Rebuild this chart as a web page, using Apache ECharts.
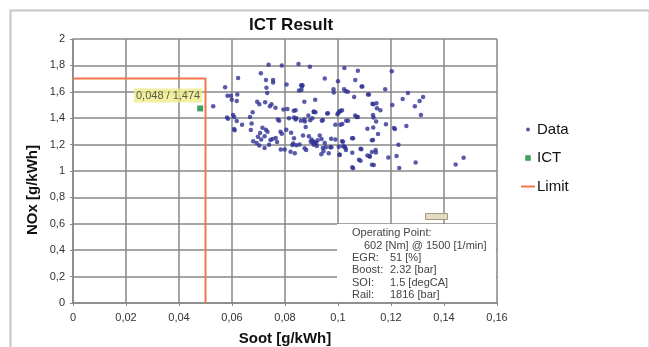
<!DOCTYPE html>
<html>
<head>
<meta charset="utf-8">
<script src="https://cdn.jsdelivr.net/npm/echarts@6/dist/echarts.min.js"></script>
<style>
  html, body { margin: 0; padding: 0; background: #fff; }
  #chart { width: 649px; height: 347px; }
</style>
</head>
<body>
<div id="chart"></div>
<script>
// measured points: [soot g/kWh, NOx g/kWh]
const measuredPoints = [
  [0.0738,1.805],[0.0788,1.80],[0.0851,1.81],[0.0894,1.79],[0.1024,1.78],[0.1075,1.76],[0.1203,1.755],
  [0.0709,1.74],[0.0623,1.705],[0.0728,1.69],[0.0755,1.69],[0.0755,1.67],[0.0806,1.655],[0.0861,1.65],
  [0.0864,1.64],[0.095,1.70],[0.1,1.68],[0.1065,1.69],[0.1089,1.64],[0.0574,1.635],[0.073,1.63],
  [0.0733,1.59],[0.0853,1.61],[0.0983,1.62],[0.0984,1.595],[0.1023,1.62],[0.1029,1.605],[0.1113,1.58],
  [0.1178,1.62],[0.1264,1.59],[0.0583,1.57],[0.0596,1.57],[0.0599,1.54],[0.0618,1.53],[0.062,1.58],
  [0.0529,1.49],[0.0695,1.525],[0.0703,1.505],[0.0725,1.52],[0.0743,1.49],[0.0749,1.505],[0.0764,1.48],
  [0.0794,1.465],[0.0809,1.47],[0.0873,1.525],[0.0914,1.54],[0.1061,1.56],[0.113,1.51],[0.1133,1.505],
  [0.116,1.46],[0.1205,1.50],[0.1244,1.545],[0.129,1.49],[0.1308,1.53],[0.1321,1.56],[0.1313,1.425],
  [0.0678,1.445],[0.0668,1.41],[0.0581,1.405],[0.0585,1.395],[0.0604,1.425],[0.0608,1.41],[0.0618,1.378],
  [0.0638,1.35],[0.0608,1.318],[0.061,1.308],[0.0773,1.39],[0.0778,1.38],[0.0815,1.40],[0.0834,1.405],
  [0.084,1.39],[0.086,1.38],[0.0873,1.39],[0.0888,1.42],[0.0903,1.40],[0.0909,1.45],[0.0915,1.445],
  [0.0939,1.38],[0.0959,1.435],[0.1001,1.44],[0.1005,1.45],[0.101,1.455],[0.1015,1.46],[0.0998,1.43],
  [0.099,1.35],[0.1009,1.35],[0.1031,1.38],[0.1065,1.42],[0.107,1.41],[0.1134,1.405],[0.1144,1.375],
  [0.1111,1.32],[0.1133,1.33],[0.1151,1.28],[0.1181,1.355],[0.1211,1.325],[0.1215,1.318],[0.1258,1.34],
  [0.0671,1.31],[0.0674,1.36],[0.0706,1.288],[0.0715,1.328],[0.0728,1.313],[0.0734,1.298],[0.0723,1.263],
  [0.0698,1.26],[0.071,1.238],[0.068,1.225],[0.0693,1.213],[0.0703,1.193],[0.0723,1.175],[0.074,1.198],
  [0.0753,1.243],[0.0765,1.25],[0.0783,1.298],[0.0788,1.283],[0.0805,1.313],[0.0823,1.29],[0.0834,1.248],
  [0.0831,1.208],[0.0843,1.195],[0.0855,1.20],[0.0868,1.268],[0.0878,1.333],[0.089,1.263],[0.09,1.238],
  [0.0906,1.213],[0.0909,1.198],[0.0918,1.213],[0.0923,1.233],[0.0931,1.268],[0.0938,1.243],[0.095,1.213],
  [0.0954,1.18],[0.0971,1.18],[0.0974,1.245],[0.099,1.238],[0.1003,1.183],[0.1006,1.125],[0.1015,1.225],
  [0.1019,1.188],[0.1028,1.175],[0.103,1.16],[0.1053,1.248],[0.1054,1.138],[0.1085,1.168],[0.1111,1.118],
  [0.1119,1.113],[0.1128,1.143],[0.1128,1.233],[0.1143,1.14],[0.119,1.103],[0.1221,1.113],[0.1228,1.198],
  [0.1231,1.023],[0.1293,1.065],[0.1444,1.05],[0.1474,1.10],[0.1054,1.028],[0.1079,1.085],[0.1128,1.048],
  [0.0784,1.163],[0.0799,1.163],[0.0821,1.145],[0.0866,1.65],[0.0862,1.614],[0.1037,1.60],[0.1092,1.64],
  [0.1117,1.58],[0.0833,1.457],[0.0908,1.447],[0.0962,1.437],[0.1145,1.513],[0.1147,1.475],[0.1132,1.424],
  [0.0843,1.40],[0.0875,1.375],[0.0895,1.385],[0.0943,1.386],[0.1016,1.356],[0.1038,1.38],[0.1075,1.41],
  [0.1019,1.222],[0.1025,1.184],[0.1057,1.248],[0.1088,1.164],[0.1132,1.235],[0.1142,1.159],[0.112,1.108],
  [0.1085,1.078],[0.1135,1.045],[0.1057,1.02],[0.1006,1.121],[0.0905,1.225],[0.0912,1.218],[0.0897,1.222],
  [0.092,1.19],[0.0874,1.172],[0.088,1.159],[0.0943,1.174],[0.0975,1.18],[0.0937,1.127],[0.0828,1.197],
  [0.0837,1.134],[0.084,1.46],[0.0945,1.15],[0.0965,1.135],[0.077,1.22],[0.0745,1.235]
];
const ictPoint = [0.048, 1.474];
const limitPath = [[0, 1.7], [0.05, 1.7], [0.05, 0]];
const operatingPoint = [
  ['EGR:', '51 [%]'],
  ['Boost:', '2.32 [bar]'],
  ['SOI:', '1.5 [degCA]'],
  ['Rail:', '1816 [bar]']
];

const font = '"Liberation Sans", Arial, sans-serif';
const comma = v => String(v).replace('.', ',');

const myChart = echarts.init(document.getElementById('chart'));

// Operating point box (white background hides the grid behind it)
const boxGraphics = [
  { type: 'rect', left: 337, top: 224, z: 1, shape: { width: 159, height: 78 }, style: { fill: '#fff' } },
  { type: 'text', left: 352, top: 227, z: 2, style: { text: 'Operating Point:', font: '11px ' + font, fill: '#444' } },
  { type: 'text', left: 364, top: 240, z: 2, style: { text: '602 [Nm] @ 1500 [1/min]', font: '11px ' + font, fill: '#444' } }
];
operatingPoint.forEach((row, i) => {
  boxGraphics.push({ type: 'text', left: 352, top: 252 + i * 12.6, z: 2, style: { text: row[0], font: '11px ' + font, fill: '#444' } });
  boxGraphics.push({ type: 'text', left: 390, top: 252 + i * 12.6, z: 2, style: { text: row[1], font: '11px ' + font, fill: '#444' } });
});

myChart.setOption({
  animation: false,
  title: {
    text: 'ICT Result',
    left: 244,
    top: 12,
    textStyle: { fontFamily: font, fontSize: 17, fontWeight: 'bold', color: '#111' }
  },
  legend: {
    orient: 'vertical',
    left: 516,
    top: 117,
    itemWidth: 14,
    itemHeight: 8,
    itemGap: 13.5,
    textStyle: { fontFamily: font, fontSize: 15, color: '#111', padding: [0, 0, 0, -3] },
    data: [
      { name: 'Data', icon: 'path://M0,0M10,10M5,2.5A2.5,2.5,0,1,1,5,7.5A2.5,2.5,0,1,1,5,2.5Z' },
      { name: 'ICT', icon: 'path://M0,0M10,10M1.5,1.5H8.5V8.5H1.5Z' },
      { name: 'Limit', icon: 'path://M0,0H14V2H0Z' }
    ]
  },
  grid: { left: 73, top: 39, width: 424, height: 264, outerBoundsMode: 'none' },
  xAxis: {
    type: 'value',
    min: 0,
    max: 0.16,
    interval: 0.02,
    name: 'Soot [g/kWh]',
    nameLocation: 'middle',
    nameGap: 28,
    nameTextStyle: { fontFamily: font, fontSize: 15, fontWeight: 'bold', color: '#111' },
    axisLine: { lineStyle: { color: '#888', width: 1.5 } },
    axisTick: { show: true, length: 3, lineStyle: { color: '#888' } },
    axisLabel: { margin: 9, fontFamily: font, fontSize: 11, color: '#333', formatter: v => comma(Math.round(v * 100) / 100) },
    splitLine: { lineStyle: { color: '#878787', width: 1.5 } }
  },
  yAxis: {
    type: 'value',
    min: 0,
    max: 2,
    interval: 0.2,
    axisLine: { show: true, lineStyle: { color: '#888', width: 1.5 } },
    axisTick: { show: true, length: 3, lineStyle: { color: '#888' } },
    axisLabel: { margin: 8, fontFamily: font, fontSize: 11, color: '#333', formatter: v => comma(Math.round(v * 10) / 10) },
    splitLine: { lineStyle: { color: '#878787', width: 1.5 } }
  },
  graphic: [
    { type: 'rect', left: 8, top: 8, shape: { width: 639, height: 345 }, style: { fill: 'none', stroke: '#c6c6c6', lineWidth: 2 } },
    {
      type: 'text', x: 33, y: 190, rotation: Math.PI / 2,
      style: { text: 'NOx [g/kWh]', font: 'bold 15px ' + font, fill: '#111', align: 'center', verticalAlign: 'middle' }
    },
    { type: 'rect', left: 425, top: 213, z: 2, shape: { width: 22, height: 6 }, style: { fill: '#e4dcc0', stroke: '#a19a80', lineWidth: 1 } },
    ...boxGraphics
  ],
  series: [
    {
      name: 'Data',
      type: 'scatter',
      symbol: 'circle',
      symbolSize: 4.5,
      itemStyle: { color: '#2f3294' },
      data: measuredPoints
    },
    {
      name: 'ICT',
      type: 'scatter',
      symbol: 'rect',
      symbolSize: 6,
      itemStyle: { color: '#178a3c' },
      label: {
        show: true,
        position: [5, -3],
        align: 'right',
        verticalAlign: 'bottom',
        formatter: p => comma(p.value[0]) + ' / ' + comma(p.value[1]),
        backgroundColor: '#eeec8a',
        padding: [2, 2, 1, 2],
        fontFamily: font,
        fontSize: 11,
        color: '#333'
      },
      data: [ictPoint]
    },
    {
      name: 'Limit',
      type: 'line',
      showSymbol: false,
      symbol: 'none',
      lineStyle: { color: '#f4764c', width: 2 },
      itemStyle: { color: '#f4764c' },
      data: limitPath
    }
  ]
});
</script>
</body>
</html>
